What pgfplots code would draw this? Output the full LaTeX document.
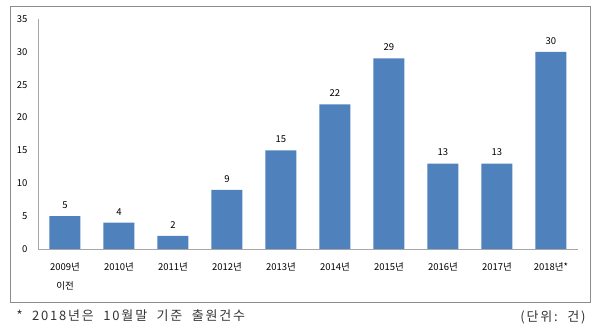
\documentclass[border=0pt]{standalone}
\usepackage{fontspec}
\setmainfont{Noto Sans CJK KR}
\newfontfamily\notefont[LetterSpace=14]{Noto Sans CJK KR}
\usepackage{pgfplots}
\pgfplotsset{compat=1.18}
\definecolor{barblue}{HTML}{4F81BD}
\definecolor{axgray}{HTML}{A6A6A6}
\definecolor{framegray}{HTML}{8C8C8C}
\begin{document}
\begin{tikzpicture}[x=1pt,y=1pt]
\path[use as bounding box] (0,0) rectangle (600,329);
\draw[framegray, line width=0.8pt] (10,27) rectangle (590,323);
\begin{axis}[
  at={(38pt,80pt)}, anchor=south west,
  scale only axis, width=540pt, height=230pt,
  xmin=-0.5, xmax=9.5, ymin=0, ymax=35,
  ybar, bar width=31pt,
  axis x line*=bottom, axis y line*=left,
  axis line style={axgray, line width=0.8pt},
  x axis line style={-}, y axis line style={-},
  xtick=data,
  xticklabels={{2009년\\이전},2010년,2011년,2012년,2013년,2014년,2015년,2016년,2017년,2018년*},
  xticklabel style={align=center, font=\fontsize{9.5}{19}\selectfont, yshift=-10pt},
  ytick={0,5,...,35},
  yticklabel style={font=\fontsize{9.5}{11}\selectfont, xshift=-7pt},
  /pgf/number format/assume math mode=true,
  major tick length=0pt,
  nodes near coords,
  every node near coord/.append style={font=\fontsize{9.5}{11}\selectfont, black, yshift=4pt},
  tick style={draw=none},
]
\addplot[fill=barblue, draw=none] coordinates {(0,5) (1,4) (2,2) (3,9) (4,15) (5,22) (6,29) (7,13) (8,13) (9,30)};
\end{axis}
\node[anchor=west, font=\notefont\fontsize{13}{15}\selectfont, text=black!80] at (13,13) {*\ \ 2018년은\ \ 10월말\ \ 기준\ \ 출원건수};
\node[anchor=east, font=\notefont\fontsize{13}{15}\selectfont, text=black!80] at (589,12) {(단위:\ \ 건)};
\end{tikzpicture}
\end{document}
